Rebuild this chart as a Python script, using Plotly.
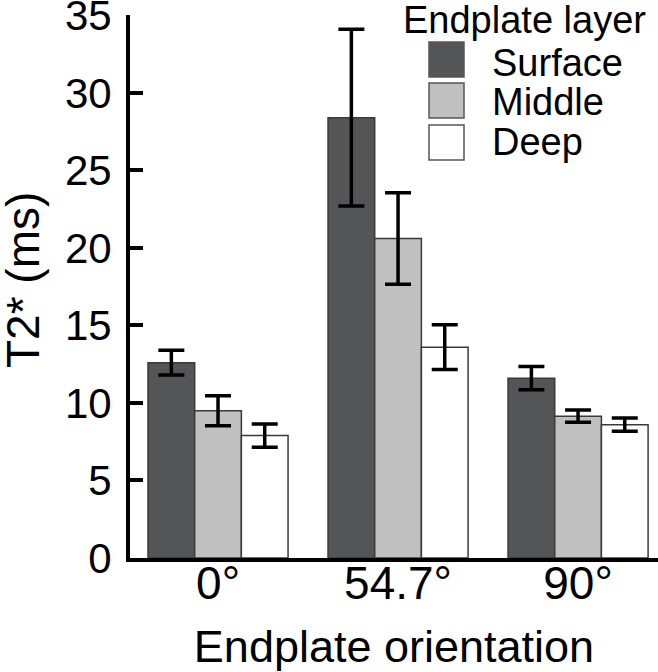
import plotly.graph_objects as go

categories = ["0°", "54.7°", "90°"]
layers = ["Surface", "Middle", "Deep"]
surface = [12.6, 28.4, 11.6]
surface_err = [0.8, 5.7, 0.75]
middle = [9.5, 20.6, 9.15]
middle_err = [0.97, 2.95, 0.4]
deep = [7.9, 13.6, 8.6]
deep_err = [0.75, 1.45, 0.43]
y_ticks = [0, 5, 10, 15, 20, 25, 30, 35]

colors = ["#545557", "#c0c0c0", "#ffffff"]
values = [surface, middle, deep]
errors = [surface_err, middle_err, deep_err]

W, H = 658, 672
L, R, T, B = 130, 0, 15, 114
pw, ph = W - L - R, H - T - B

def px(x):
    return (x - L) / pw

def py(y):
    return (H - B - y) / ph

FONT = "Liberation Sans, Arial, sans-serif"

fig = go.Figure()
for name, vals, errs, col in zip(layers, values, errors, colors):
    fig.add_trace(go.Bar(
        x=categories, y=vals, name=name,
        marker=dict(color=col, line=dict(color="#3a3a3a", width=1.5)),
        error_y=dict(type="data", array=errs, visible=True,
                     color="black", thickness=3.5, width=13),
    ))

# custom legend (large swatches like the original)
sw_tops = [42, 83, 125]
text_y = [63, 102, 142]
for col, top, name, ty in zip(colors, sw_tops, layers, text_y):
    fig.add_shape(type="rect", xref="paper", yref="paper",
                  x0=px(429), x1=px(464), y0=py(top), y1=py(top + 35),
                  fillcolor=col, line=dict(color="#555555", width=1.5))
    fig.add_annotation(xref="paper", yref="paper", x=px(490), y=py(ty),
                       xanchor="left", yanchor="middle", showarrow=False,
                       text=name, font=dict(family=FONT, size=38, color="black"))
fig.add_annotation(xref="paper", yref="paper", x=px(401), y=py(20),
                   xanchor="left", yanchor="middle", showarrow=False,
                   text="Endplate layer", font=dict(family=FONT, size=38, color="black"))

# y-axis title
fig.add_annotation(xref="paper", yref="paper", x=px(23), y=py(280),
                   xanchor="center", yanchor="middle", showarrow=False,
                   textangle=-90, text="T2* (ms)",
                   font=dict(family=FONT, size=46, color="black"))

fig.update_layout(
    width=W, height=H,
    margin=dict(l=L, r=R, t=T, b=B, pad=0, autoexpand=False),
    paper_bgcolor="white", plot_bgcolor="white",
    barmode="group", bargap=0.222, bargroupgap=0,
    showlegend=False,
    font=dict(family=FONT, color="black"),
)
fig.update_xaxes(
    range=[-0.489, 2.444], automargin=False,
    showline=True, linecolor="black", linewidth=4,
    ticks="", showgrid=False, zeroline=False,
    tickfont=dict(size=46), ticklabelstandoff=-18,
    title=dict(text="Endplate orientation", font=dict(size=45), standoff=28),
)
fig.update_yaxes(
    range=[0, 35.02], tickvals=y_ticks, automargin=False,
    showline=True, linecolor="black", linewidth=4,
    ticks="inside", ticklen=13, tickwidth=3.5, tickcolor="black",
    showgrid=False, zeroline=False, ticklabeloverflow="allow",
    tickfont=dict(size=42), ticklabelstandoff=6,
)

fig.write_html("out.html", config={"displayModeBar": False},
               post_script="document.body.style.margin='0px';")
